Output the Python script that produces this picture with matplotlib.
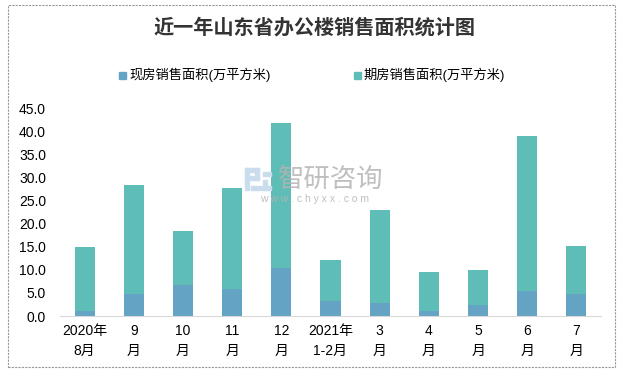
#!/usr/bin/env python3
# -*- coding: utf-8 -*-

import matplotlib
matplotlib.use("Agg")
import matplotlib.pyplot as plt
import matplotlib.patches as mpatches
import numpy as np

# ====== DATA ======
months = ["2020年\n8月", "9\n月", "10\n月", "11\n月", "12\n月", "2021年\n1-2月",
          "3\n月", "4\n月", "5\n月", "6\n月", "7\n月"]
existing_area = [1.1, 4.8, 6.7, 5.8, 10.4, 3.2, 2.8, 1.1, 2.4, 5.4, 4.8]   # 现房
total_area = [14.9, 28.4, 18.4, 27.7, 41.8, 12.1, 22.9, 9.5, 10.0, 39.0, 15.2]
presale_area = [round(t - e, 1) for t, e in zip(total_area, existing_area)]  # 期房
yticks = [0, 5, 10, 15, 20, 25, 30, 35, 40, 45]

plt.rcParams['font.family'] = ['Liberation Sans', 'Noto Sans CJK SC']

C_EXIST = "#64A3C3"
C_PRE = "#5EBDB6"

W, H = 629, 373
fig = plt.figure(figsize=(W / 100, H / 100), dpi=100)
ax = fig.add_axes([60 / W, 1 - 316 / H, (601 - 60) / W, (316 - 108) / H])

x = np.arange(len(months))
ax.bar(x, existing_area, width=0.41, color=C_EXIST, zorder=2)
ax.bar(x, presale_area, width=0.41, bottom=existing_area, color=C_PRE, zorder=2)

ax.set_xlim(-0.5, len(months) - 0.5)
ax.set_ylim(0, 45)
ax.set_yticks(yticks)
ax.set_yticklabels([f"{v:.1f}" for v in yticks], fontsize=10)
ax.set_xticks(x)
ax.set_xticklabels(months, fontsize=10, linespacing=1.5)
ax.tick_params(axis="both", length=0, pad=10)
ax.tick_params(axis="x", pad=6)

for s in ["top", "right", "left"]:
    ax.spines[s].set_visible(False)
ax.spines["bottom"].set_color("#D9D9D9")

# titulek a legenda
fig.text(0.5, 1 - 28 / H, "近一年山东省办公楼销售面积统计图", ha="center", va="center",
         fontsize=14.5, fontweight="bold", color="#333333")
fig.patches.append(mpatches.Rectangle((119 / W, 1 - 79 / H), 7 / W, 7 / H,
                                      color=C_EXIST, transform=fig.transFigure))
fig.text(129 / W, 1 - 75 / H, "现房销售面积(万平方米)", va="center", fontsize=9.5)
fig.patches.append(mpatches.Rectangle((354 / W, 1 - 79 / H), 7 / W, 7 / H,
                                      color=C_PRE, transform=fig.transFigure))
fig.text(364 / W, 1 - 75 / H, "期房销售面积(万平方米)", va="center", fontsize=9.5)

# vodoznak (logo + text)
logo_c = "#C9DDEE"
for (lx, ly, lw, lh) in [(245, 168, 14, 4), (255, 168, 4, 12), (245, 176, 14, 4),
                         (245, 168, 4, 22), (263, 172, 8, 4), (263, 180, 4, 10),
                         (251, 186, 20, 4)]:
    fig.patches.append(mpatches.Rectangle((lx / W, 1 - (ly + lh) / H), lw / W, lh / H,
                                          color=logo_c, transform=fig.transFigure, zorder=3))
fig.text(331 / W, 1 - 180 / H, "智研咨询", ha="center", va="center", fontsize=19,
         color="#B4B4B4", alpha=0.85, zorder=3)
fig.text(315 / W, 1 - 199 / H, "w w w . c h y x x . c o m", ha="center", va="center",
         fontsize=7.5, color="#B4B4B4", alpha=0.85, zorder=3)

# rámeček
fig.patches.append(mpatches.Rectangle((8 / W, 1 - 367 / H), 607 / W, 362 / H, fill=False,
                                      edgecolor="#999999", linestyle=(0, (2, 1)), linewidth=0.8,
                                      transform=fig.transFigure))

fig.savefig("out.png", dpi=100)
